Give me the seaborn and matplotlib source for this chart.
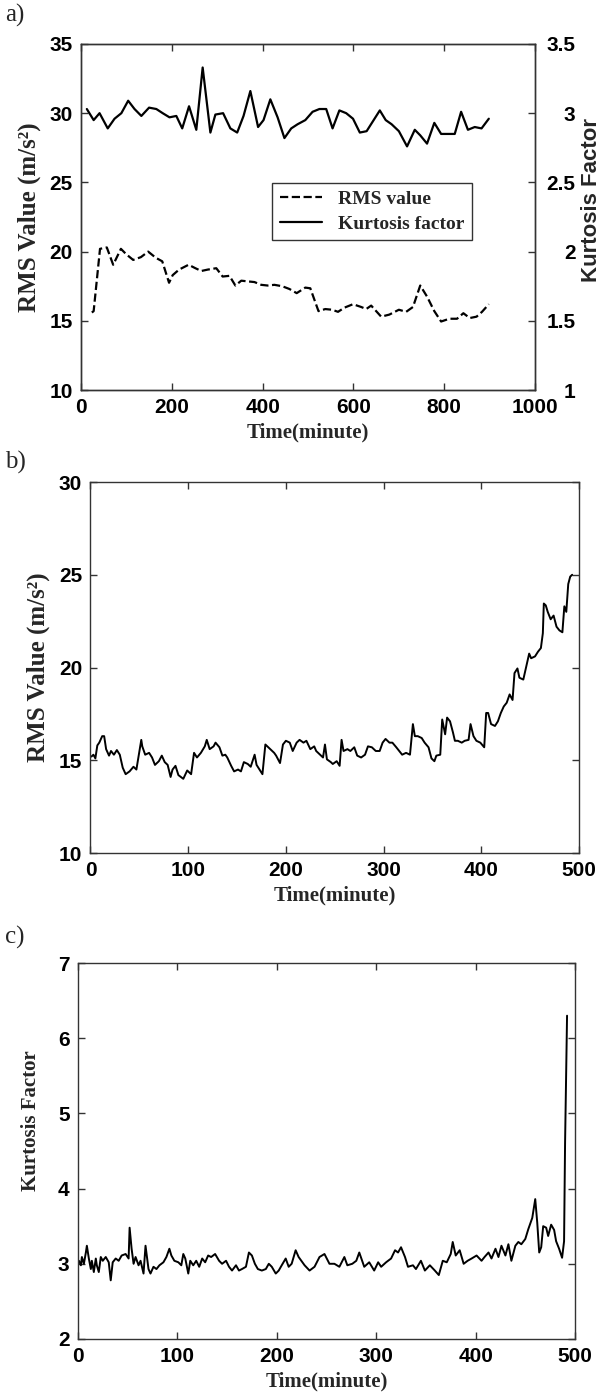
"""
Vibration trend charts: RMS value and kurtosis factor over time
"""
import matplotlib
matplotlib.use("Agg")
import matplotlib.pyplot as plt
import seaborn as sns

# panel a) sampled every ~15 min
ka_time = [13, 28, 41, 59, 74, 89, 104, 118, 133, 150, 166, 180, 195, 210, 223, 238, 254, 268, 285, 296,
           313, 329, 344, 358, 373, 390, 402, 417, 433, 448, 463, 477, 494, 510, 525, 540, 554, 569, 584, 599,
           614, 629, 658, 671, 684, 700, 718, 735, 747, 762, 778, 793, 808, 823, 837, 852, 867, 882, 898]
ka_vals = [3.03, 2.95, 3.0, 2.89, 2.96, 3.0, 3.09, 3.03, 2.98, 3.04, 3.03, 3.0, 2.97, 2.98, 2.89, 3.05, 2.88, 3.33, 2.86, 2.99,
           3.0, 2.89, 2.86, 2.98, 3.16, 2.90, 2.95, 3.10, 2.97, 2.82, 2.89, 2.92, 2.95, 3.01, 3.03, 3.03, 2.89, 3.02, 3.0, 2.96,
           2.86, 2.87, 3.02, 2.95, 2.92, 2.87, 2.76, 2.88, 2.84, 2.78, 2.93, 2.85, 2.85, 2.85, 3.01, 2.88, 2.90, 2.89, 2.96]

ra_time = [24, 28, 42, 57, 71, 88, 100, 115, 132, 148, 165, 179, 194, 202, 216, 237, 252, 265, 279, 298,
           312, 327, 340, 353, 367, 382, 397, 411, 426, 443, 459, 475, 494, 505, 523, 538, 553, 566, 580, 599,
           617, 628, 639, 661, 679, 700, 716, 731, 747, 762, 778, 793, 811, 828, 842, 856, 871, 883, 898]
ra_vals = [15.6, 15.7, 20.2, 20.3, 19.05, 20.2, 19.8, 19.4, 19.6, 20.0, 19.55, 19.3, 17.75, 18.3, 18.7, 19.05, 18.8, 18.6, 18.7, 18.8,
           18.2, 18.25, 17.55, 17.9, 17.85, 17.8, 17.6, 17.55, 17.6, 17.5, 17.3, 17.0, 17.4, 17.35, 15.7, 15.85, 15.8, 15.65, 15.95, 16.2,
           16.0, 15.85, 16.1, 15.3, 15.45, 15.8, 15.65, 16.0, 17.55, 16.75, 15.7, 14.95, 15.15, 15.15, 15.55, 15.2, 15.3, 15.65, 16.2]

# panel b) RMS, run to failure
rb_time = [1, 3, 5, 7, 9, 12, 14, 16, 19, 21, 24, 27, 30, 33, 36, 40, 44, 47, 49, 52,
           53, 56, 60, 63, 66, 70, 73, 76, 79, 82, 84, 87, 90, 95, 99, 103, 106, 109, 113, 117,
           119, 122, 126, 128, 132, 135, 138, 140, 144, 147, 151, 154, 157, 161, 164, 168, 170, 173, 176, 179,
           181, 184, 188, 190, 194, 197, 200, 204, 207, 211, 214, 218, 221, 225, 229, 231, 236, 238, 240, 242,
           246, 248, 252, 255, 257, 259, 263, 266, 270, 273, 277, 281, 284, 288, 292, 296, 299, 302, 306, 309,
           313, 316, 319, 323, 327, 330, 332, 335, 339, 342, 346, 349, 352, 354, 358, 360, 363, 365, 368, 371,
           373, 376, 380, 383, 387, 389, 392, 395, 399, 403, 405, 407, 410, 414, 417, 420, 423, 426, 429, 432,
           434, 437, 439, 443, 446, 449, 451, 455, 458, 461, 463, 464, 466, 468, 471, 474, 477, 480, 483, 485,
           487, 489, 491, 493]
rb_vals = [15.2, 15.3, 15.1, 15.8, 15.95, 16.3, 16.3, 15.6, 15.25, 15.5, 15.3, 15.55, 15.3, 14.6, 14.25, 14.4, 14.65, 14.5, 15.15, 16.1,
           15.75, 15.3, 15.4, 15.15, 14.75, 14.95, 15.25, 14.9, 14.75, 14.1, 14.5, 14.7, 14.2, 14.0, 14.45, 14.25, 15.4, 15.15, 15.4, 15.75,
           16.1, 15.6, 15.75, 15.95, 15.7, 15.25, 15.3, 15.15, 14.7, 14.4, 14.5, 14.4, 14.9, 14.8, 14.65, 15.3, 14.75, 14.5, 14.25, 15.85,
           15.75, 15.6, 15.4, 15.25, 14.85, 15.85, 16.05, 15.95, 15.5, 15.95, 16.1, 15.95, 16.05, 15.6, 15.75, 15.5, 15.25, 15.15, 15.85, 15.05,
           14.9, 14.8, 14.95, 14.7, 16.1, 15.5, 15.6, 15.5, 15.7, 15.25, 15.15, 15.3, 15.75, 15.7, 15.5, 15.5, 15.95, 16.15, 15.95, 15.95,
           15.7, 15.5, 15.3, 15.4, 15.3, 16.95, 16.3, 16.3, 16.2, 15.95, 15.7, 15.1, 14.95, 15.25, 15.3, 17.2, 16.4, 17.3, 17.1, 16.5,
           16.05, 16.05, 15.95, 16.05, 16.1, 16.95, 16.3, 16.05, 15.95, 15.7, 17.55, 17.55, 16.95, 16.85, 17.1, 17.55, 17.9, 18.1, 18.55, 18.25,
           19.7, 19.95, 19.45, 19.35, 20.05, 20.75, 20.5, 20.6, 20.85, 21.05, 21.85, 23.45, 23.35, 23.0, 22.6, 22.8, 22.2, 22.0, 21.9, 23.3,
           23.0, 24.5, 24.9, 25.0]

# panel c) kurtosis, run to failure
kc_time = [1, 3, 4, 6, 8, 9, 11, 13, 14, 16, 18, 19, 21, 23, 25, 28, 31, 33, 35, 38,
           41, 44, 48, 51, 52, 54, 56, 58, 61, 63, 66, 68, 71, 73, 76, 79, 82, 86, 89, 92,
           94, 97, 101, 104, 106, 108, 111, 113, 116, 119, 122, 125, 128, 131, 134, 138, 142, 145, 149, 152,
           155, 159, 162, 165, 169, 172, 175, 178, 181, 185, 189, 192, 195, 199, 202, 205, 209, 212, 215, 219,
           222, 228, 233, 238, 243, 248, 253, 258, 263, 268, 271, 276, 280, 283, 288, 293, 298, 302, 305, 310,
           315, 319, 322, 325, 329, 332, 337, 340, 345, 349, 354, 359, 363, 367, 371, 375, 377, 380, 384, 388,
           392, 396, 401, 406, 409, 413, 416, 420, 423, 426, 430, 433, 436, 440, 443, 446, 450, 453, 457, 460,
           462, 464, 466, 468, 471, 473, 476, 479, 481, 484, 487, 489, 490, 492]
kc_vals = [3.04, 2.98, 3.09, 3.0, 3.15, 3.24, 3.07, 2.93, 3.04, 2.89, 3.07, 2.98, 2.89, 3.09, 3.04, 3.09, 3.02, 2.78, 3.02, 3.07,
           3.04, 3.11, 3.13, 3.07, 3.48, 3.2, 3.0, 3.09, 2.98, 3.04, 2.87, 3.24, 2.93, 2.87, 2.96, 2.93, 2.98, 3.02, 3.09, 3.2,
           3.11, 3.04, 3.02, 2.98, 3.13, 3.07, 2.87, 3.04, 2.98, 3.04, 2.96, 3.07, 3.02, 3.11, 3.09, 3.13, 3.04, 3.0, 3.04, 2.96,
           2.91, 2.98, 2.91, 2.93, 2.96, 3.15, 3.11, 3.0, 2.93, 2.91, 2.93, 3.0, 2.96, 2.87, 2.91, 2.98, 3.07, 2.96, 3.0, 3.18,
           3.09, 2.98, 2.91, 2.96, 3.09, 3.13, 3.0, 3.0, 2.96, 3.09, 2.98, 3.0, 3.04, 3.15, 2.96, 3.02, 2.91, 3.02, 2.96, 3.02,
           3.07, 3.18, 3.15, 3.22, 3.09, 2.96, 2.98, 2.93, 3.04, 2.91, 2.98, 2.91, 2.85, 3.04, 3.02, 3.13, 3.29, 3.11, 3.18, 3.0,
           3.04, 3.07, 3.11, 3.04, 3.09, 3.15, 3.07, 3.2, 3.09, 3.24, 3.11, 3.26, 3.04, 3.24, 3.29, 3.26, 3.33, 3.46, 3.61, 3.86,
           3.55, 3.15, 3.22, 3.5, 3.48, 3.37, 3.52, 3.45, 3.3, 3.2, 3.08, 3.3, 4.6, 6.3]

sns.set_theme(style="ticks")
plt.rcParams['font.family'] = ['Liberation Sans', 'DejaVu Sans']
plt.rcParams['axes.edgecolor'] = '#333333'
plt.rcParams['axes.linewidth'] = 1.0

SERIF = {'family': ['Liberation Serif', 'DejaVu Serif'], 'weight': 'bold'}
TICK_FS = 15
LAB_FS = 15
RMS_FS = 18


def style_axis(ax, left=True, right=True):
    ax.tick_params(direction='in', length=5, width=1, colors='#333333',
                   top=True, bottom=True, left=left, right=right,
                   labelsize=TICK_FS, labelcolor='black', pad=6)
    for lab in ax.get_xticklabels() + ax.get_yticklabels():
        lab.set_fontweight('bold')


fig = plt.figure(figsize=(6.04, 14), dpi=100)

# ---- a) dual axis
ax_a = fig.add_axes([0.134, 0.7214, 0.752, 0.2472])
ax_a2 = ax_a.twinx()
sns.lineplot(x=ra_time, y=ra_vals, ax=ax_a, color='black', linestyle='--',
             lw=1.6, estimator=None, label='RMS value', legend=False)
sns.lineplot(x=ka_time, y=ka_vals, ax=ax_a2, color='black', linestyle='-',
             lw=1.6, estimator=None, label='Kurtosis factor', legend=False)
ax_a.set_xlim(0, 1000)
ax_a.set_ylim(10, 35)
ax_a2.set_ylim(1, 3.5)
ax_a.set_xticks([0, 200, 400, 600, 800, 1000])
ax_a.set_yticks([10, 15, 20, 25, 30, 35])
ax_a2.set_yticks([1, 1.5, 2, 2.5, 3, 3.5])
ax_a2.set_yticklabels(['1', '1.5', '2', '2.5', '3', '3.5'])
style_axis(ax_a, right=False)
# right-hand labels sit right-aligned, like the original
ax_a2.tick_params(direction='in', length=5, width=1, colors='#333333',
                  right=True, labelsize=TICK_FS, labelcolor='black', pad=29)
for lab in ax_a2.get_yticklabels():
    lab.set_fontweight('bold')
    lab.set_horizontalalignment('right')
ax_a.set_xlabel('Time(minute)', fontdict=SERIF, fontsize=LAB_FS, labelpad=4)
ax_a.set_ylabel('RMS Value (m/s²)', fontdict=SERIF, fontsize=RMS_FS, labelpad=6)
ax_a2.set_ylabel('Kurtosis Factor', fontsize=16, fontweight='bold')
ax_a2.yaxis.set_label_coords(1.10, 0.55)
handles = ax_a.get_lines() + ax_a2.get_lines()
leg = ax_a2.legend(handles, ['RMS value', 'Kurtosis factor'], loc='upper left',
                   bbox_to_anchor=(0.399, 0.627), fancybox=False, framealpha=1,
                   edgecolor='#333333', handlelength=2.2, borderpad=0.4,
                   labelspacing=0.35, prop={'family': SERIF['family'], 'weight': 'bold', 'size': 14})
leg.get_frame().set_linewidth(1.0)

# ---- b) RMS
ax_b = fig.add_axes([0.1498, 0.3907, 0.8088, 0.265])
sns.lineplot(x=rb_time, y=rb_vals, ax=ax_b, color='black', lw=1.4, estimator=None)
ax_b.set_xlim(0, 500)
ax_b.set_ylim(10, 30)
ax_b.set_xticks([0, 100, 200, 300, 400, 500])
ax_b.set_yticks([10, 15, 20, 25, 30])
style_axis(ax_b)
ax_b.set_xlabel('Time(minute)', fontdict=SERIF, fontsize=LAB_FS, labelpad=4)
ax_b.set_ylabel('RMS Value (m/s²)', fontdict=SERIF, fontsize=RMS_FS, labelpad=6)

# ---- c) kurtosis
ax_c = fig.add_axes([0.129, 0.0436, 0.823, 0.2685])
sns.lineplot(x=kc_time, y=kc_vals, ax=ax_c, color='black', lw=1.4, estimator=None)
ax_c.set_xlim(0, 500)
ax_c.set_ylim(2, 7)
ax_c.set_xticks([0, 100, 200, 300, 400, 500])
ax_c.set_yticks([2, 3, 4, 5, 6, 7])
style_axis(ax_c)
ax_c.set_xlabel('Time(minute)', fontdict=SERIF, fontsize=LAB_FS, labelpad=4)
ax_c.set_ylabel('Kurtosis Factor', fontdict=SERIF, fontsize=LAB_FS)
ax_c.yaxis.set_label_coords(-0.075, 0.58)

for lbl, ypix in [('a)', 15), ('b)', 462), ('c)', 937)]:
    fig.text(0.008, 1 - ypix / 1400, lbl, fontsize=18,
             family=['Liberation Serif', 'DejaVu Serif'], va='center', ha='left')

fig.savefig('out.png', dpi=100)
plt.close(fig)
